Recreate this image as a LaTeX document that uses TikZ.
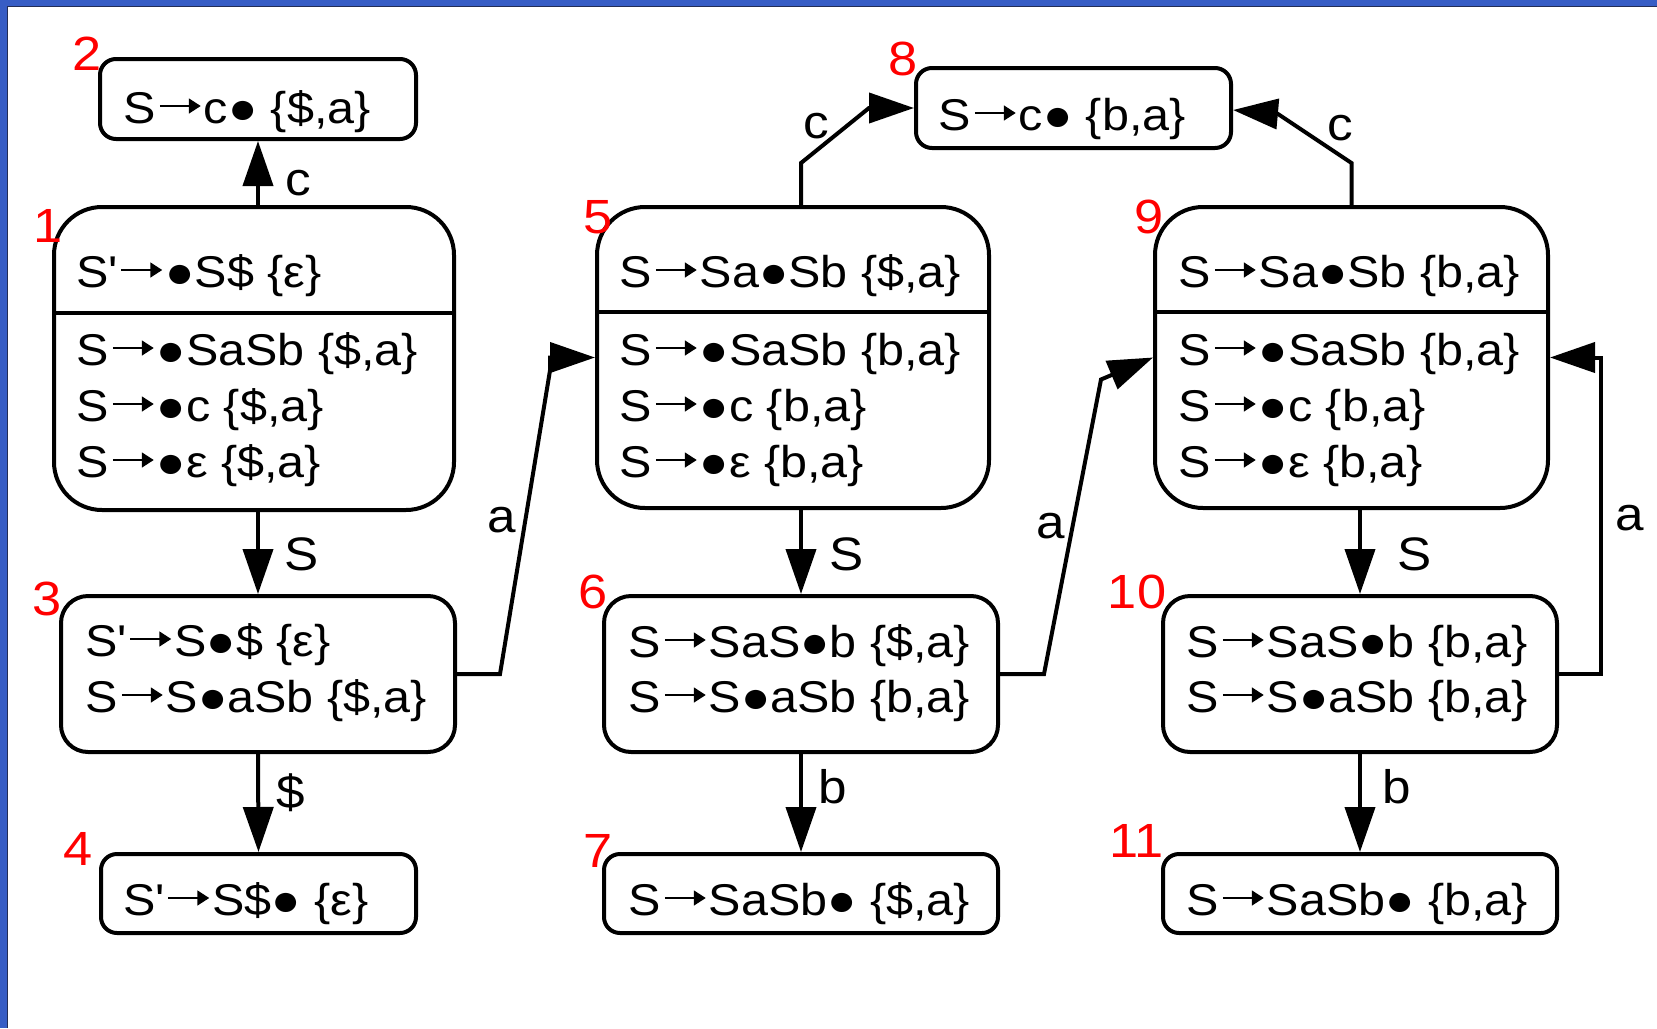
\documentclass[tikz,border=0pt]{standalone}
\usepackage{fontspec}
\setmainfont{Liberation Sans}[FakeStretch=1.09]
\usetikzlibrary{arrows.meta}
\definecolor{frameblue}{RGB}{55,93,197}
\definecolor{frameshade}{RGB}{35,45,85}
\definecolor{numred}{RGB}{255,0,0}
\newcommand{\qq}{\textquotesingle}
% one production line: name, position, left side, right side
\newcommand{\pline}[4]{%
  \node[itm] (#1l) at (#2) {#3};
  \node[itm] (#1r) at ([xshift=48pt]#1l.base east) {#4};
  \draw[tarr] ([shift={(4pt,17pt)}]#1l.base east) -- ([shift={(-3pt,17pt)}]#1r.base west);
}
\begin{document}
\begin{tikzpicture}[x=1pt,y=-1pt,
  box/.style={draw, line width=4pt, inner sep=0pt},
  itm/.style={anchor=base west, inner sep=0pt, font=\fontsize{44.5}{44.5}\selectfont},
  num/.style={anchor=base, inner sep=0pt, text=numred, font=\fontsize{48}{48}\selectfont},
  lbl/.style={anchor=base, inner sep=0pt, font=\fontsize{47}{47}\selectfont},
  arr/.style={line width=4pt, -{Triangle[length=45pt,width=30pt]}},
  tarr/.style={line width=1.8pt, -{Triangle[length=12pt,width=15pt]}},
  sep/.style={line width=4pt}]
\useasboundingbox (0,0) rectangle (1657,1028);
\fill[frameblue] (0,0) rectangle (1657,6);
\fill[frameblue] (0,0) rectangle (7,1028);
\draw[frameshade, line width=1pt] (7.5,1028) -- (7.5,6.5) -- (1657,6.5);

% boxes
\node[box, rounded corners=48pt, minimum width=400pt, minimum height=303pt] (b1) at (254,358.5) {};
\node[box, rounded corners=16pt, minimum width=316pt, minimum height=80pt] (b2) at (258,99) {};
\node[box, rounded corners=27pt, minimum width=394pt, minimum height=156pt] (b3) at (258,674) {};
\node[box, rounded corners=16pt, minimum width=315pt, minimum height=79pt] (b4) at (258.5,893.5) {};
\node[box, rounded corners=48pt, minimum width=392pt, minimum height=301pt] (b5) at (793,357.5) {};
\node[box, rounded corners=27pt, minimum width=394pt, minimum height=156pt] (b6) at (801,674) {};
\node[box, rounded corners=16pt, minimum width=394pt, minimum height=79pt] (b7) at (801,893.5) {};
\node[box, rounded corners=16pt, minimum width=315pt, minimum height=80pt] (b8) at (1073.5,108) {};
\node[box, rounded corners=48pt, minimum width=393pt, minimum height=301pt] (b9) at (1351.5,357.5) {};
\node[box, rounded corners=27pt, minimum width=394pt, minimum height=156pt] (b10) at (1360,674) {};
\node[box, rounded corners=16pt, minimum width=394pt, minimum height=79pt] (b11) at (1360,893.5) {};

% dividers
\draw[sep] ([yshift=46pt]b1.west) -- ([yshift=46pt]b1.east);
\draw[sep] ([yshift=46pt]b5.west) -- ([yshift=46pt]b5.east);
\draw[sep] ([yshift=46pt]b9.west) -- ([yshift=46pt]b9.east);

% item texts
\pline{t1a}{76,287}{S\qq}{●S\$ \{ε\}}
\pline{t1b}{76,365}{S}{●SaSb \{\$,a\}}
\pline{t1c}{76,421}{S}{●c \{\$,a\}}
\pline{t1d}{76,477}{S}{●ε \{\$,a\}}
\pline{t2a}{123,123}{S}{c● \{\$,a\}}
\pline{t3a}{85,656}{S\qq}{S●\$ \{ε\}}
\pline{t3b}{85,712}{S}{S●aSb \{\$,a\}}
\pline{t4a}{123,915}{S\qq}{S\$● \{ε\}}
\pline{t5a}{619,287}{S}{Sa●Sb \{\$,a\}}
\pline{t5b}{619,365}{S}{●SaSb \{b,a\}}
\pline{t5c}{619,421}{S}{●c \{b,a\}}
\pline{t5d}{619,477}{S}{●ε \{b,a\}}
\pline{t6a}{628,657}{S}{SaS●b \{\$,a\}}
\pline{t6b}{628,712}{S}{S●aSb \{b,a\}}
\pline{t7a}{628,915}{S}{SaSb● \{\$,a\}}
\pline{t8a}{938,130}{S}{c● \{b,a\}}
\pline{t9a}{1178,287}{S}{Sa●Sb \{b,a\}}
\pline{t9b}{1178,365}{S}{●SaSb \{b,a\}}
\pline{t9c}{1178,421}{S}{●c \{b,a\}}
\pline{t9d}{1178,477}{S}{●ε \{b,a\}}
\pline{t10a}{1186,657}{S}{SaS●b \{b,a\}}
\pline{t10b}{1186,712}{S}{S●aSb \{b,a\}}
\pline{t11a}{1186,915}{S}{SaSb● \{b,a\}}

% state numbers
\node[num] (n1) at (48,242) {1};
\node[num] (n2) at (87.5,70) {2};
\node[num] (n3) at (47.5,615) {3};
\node[num] (n4) at (78.5,865) {4};
\node[num] (n5) at (598,233) {5};
\node[num] (n6) at (593.5,608) {6};
\node[num] (n7) at (598,867) {7};
\node[num] (n8) at (903.5,75) {8};
\node[num] (n9) at (1149.5,233) {9};
\node[num] (n10) at (1137,608) {10};
\node[num] (n11) at (1136.5,857) {11};

% connectors
\draw[arr] (b1.north -| b2.south) -- (b2.south);
\draw[arr] (b1.south -| b3.north) -- (b3.north);
\draw[arr] (b3.south) -- (b4.north);
\draw[arr] (b3.east) -- ++(43,0) -- ([shift={(-45pt,-13pt)}]b5.west) -- ([xshift=-45pt]b5.west) -- (b5.west);
\draw[arr] (b5.north -| b6.north) -- ++(0,-42) -- ([xshift=-45pt]b8.west) -- (b8.west);
\draw[arr] (b9.north) -- ++(0,-42) -- ([shift={(45pt,-6pt)}]b8.east) -- ([yshift=-2pt]b8.east);
\draw[arr] (b5.south -| b6.north) -- (b6.north);
\draw[arr] (b6.south) -- (b7.north);
\draw[arr] (b6.east) -- ++(44,0) -- ([shift={(-52pt,-22pt)}]b9.west) -- (b9.west);
\draw[arr] (b9.south -| b10.north) -- (b10.north);
\draw[arr] (b10.south) -- (b11.north);
\draw[arr] (b10.east) -- ++(42,0) |- (b9.east);

% connector labels
\node[lbl] (l12) at (298,195) {c};
\node[lbl] (l13) at (302,570) {S};
\node[lbl] (l34) at (291,808) {\$};
\node[lbl] (l35) at (502,532) {a};
\node[lbl] (l58) at (816,138) {c};
\node[lbl] (l98) at (1340,140) {c};
\node[lbl] (l56) at (847,570) {S};
\node[lbl] (l67) at (833,803) {b};
\node[lbl] (l69) at (1051,538) {a};
\node[lbl] (l910) at (1415,570) {S};
\node[lbl] (l1011) at (1397,803) {b};
\node[lbl] (l109) at (1630,530) {a};
\end{tikzpicture}
\end{document}
